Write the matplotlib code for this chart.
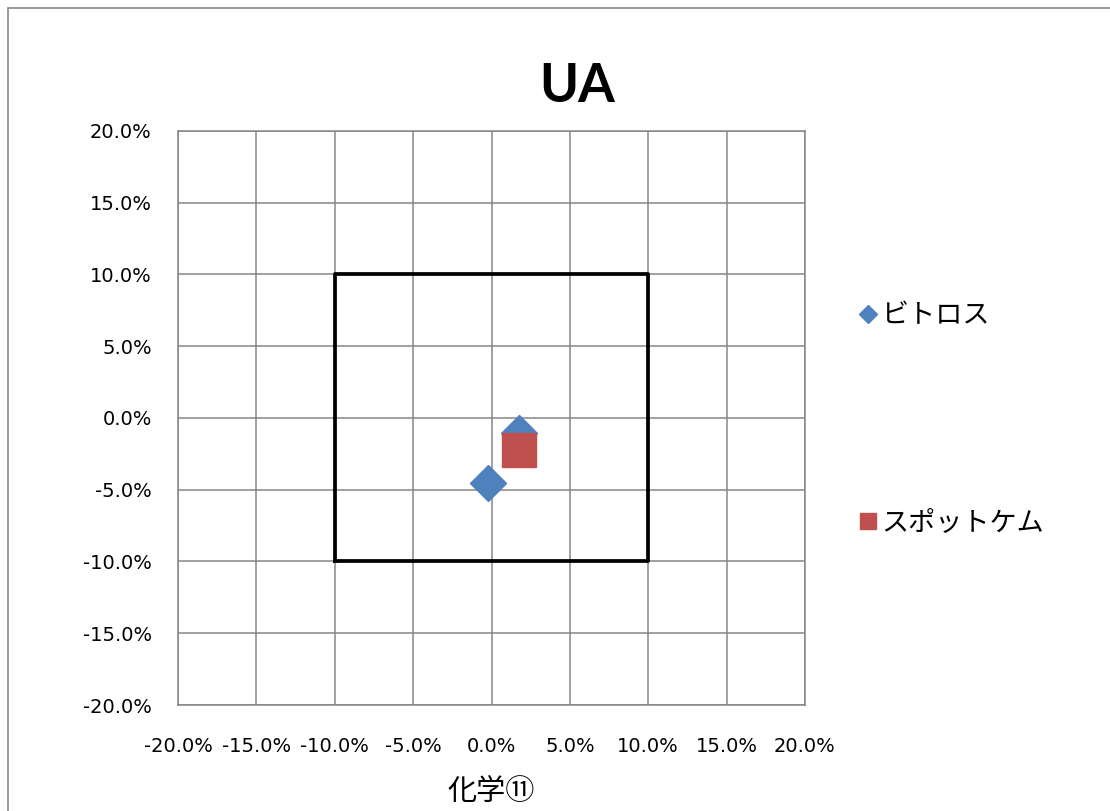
import matplotlib
matplotlib.use('Agg')
import matplotlib.pyplot as plt
from matplotlib.patches import Rectangle

plt.rcParams['font.family'] = ['DejaVu Sans', 'Noto Sans CJK JP']
plt.rcParams['axes.unicode_minus'] = False

# values in percent
bitoros_x = [-0.2, 1.75]
bitoros_y = [-4.5, -1.05]
spotchem_x = [1.75]
spotchem_y = [-2.2]

# +-10% tolerance box
box_x = [-10, 10, 10, -10, -10]
box_y = [-10, -10, 10, 10, -10]

ticks = [-20, -15, -10, -5, 0, 5, 10, 15, 20]

fig = plt.figure(figsize=(11.1, 8.11), dpi=100)
ax = fig.add_axes([0.1604, 0.1307, 0.5648, 0.7078])

# chart frame
fig.patches.append(Rectangle((8 / 1110, -0.05), 1.2, 1 - 8 / 811 + 0.05,
                             transform=fig.transFigure, fill=False,
                             edgecolor='#878787', linewidth=1.2))

ax.plot(box_x, box_y, color='black', linewidth=2.7, zorder=2)
ax.plot(bitoros_x, bitoros_y, linestyle='none', marker='D', markersize=18,
        color='#4F81BD', label='ビトロス', zorder=3)
ax.plot(spotchem_x, spotchem_y, linestyle='none', marker='s', markersize=24,
        color='#C0504D', label='スポットケム', zorder=4)

ax.set_xlim(-20, 20)
ax.set_ylim(-20, 20)
ax.set_xticks(ticks)
ax.set_yticks(ticks)
ax.set_xticklabels([f'{t:.1f}%' for t in ticks])
ax.set_yticklabels([f'{t:.1f}%' for t in ticks])
ax.tick_params(length=0, labelsize=14, colors='black')
ax.tick_params(axis='y', pad=19)
ax.tick_params(axis='x', pad=23)
ax.grid(True, color='#868686', linewidth=1.1)
ax.set_axisbelow(True)
for s in ax.spines.values():
    s.set_color('#868686')
    s.set_linewidth(1.1)

fig.text(577 / 1110, 1 - 102 / 811, 'UA', fontsize=38, fontweight='bold',
         family='Lato', ha='center', va='baseline')
ax.set_xlabel('化学⑪', fontsize=21, family=['Noto Sans CJK JP', 'DejaVu Sans'])
ax.xaxis.set_label_coords(0.5, -0.125)

fig.legend(loc='upper left', bbox_to_anchor=(846 / 1110, 1 - 289 / 811),
           frameon=False, fontsize=19.5, markerscale=0.5, handlelength=0.6,
           handletextpad=0.2, labelspacing=6.65, borderpad=0,
           prop={'family': ['Noto Sans CJK JP', 'DejaVu Sans'], 'size': 19.5})

fig.savefig('out.png', dpi=100)
